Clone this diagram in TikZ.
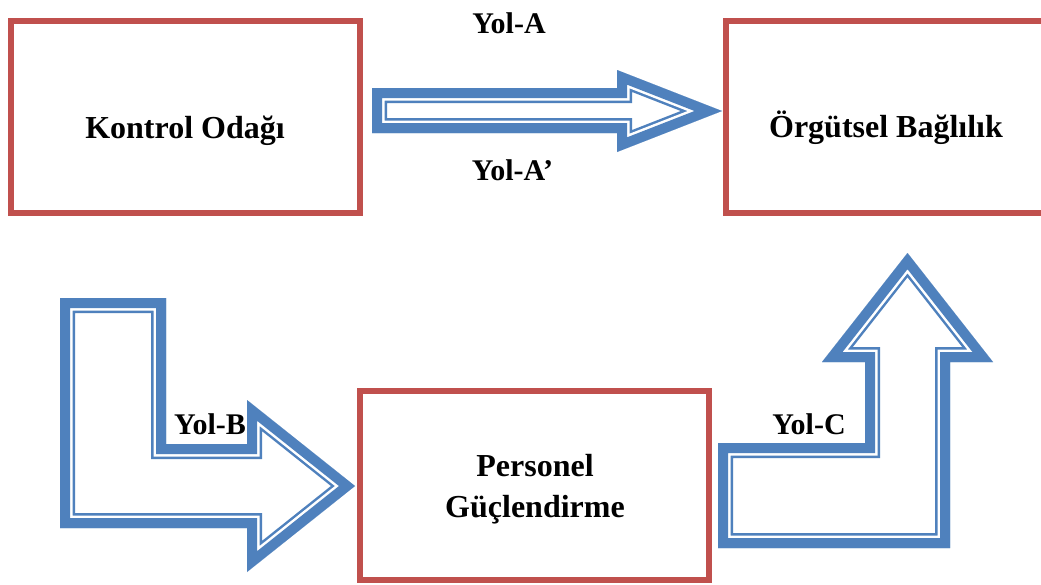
\documentclass[tikz,border=0pt]{standalone}
\usepackage{fontspec}
\setmainfont{Liberation Serif}
\usepackage{tikz}
\usetikzlibrary{calc}

\definecolor{kutukirmizi}{RGB}{192,80,77}
\definecolor{okmavi}{RGB}{79,129,189}

\newcommand{\yolok}[1]{%
\begin{scope}
\clip #1;
\fill[white] #1;
\draw[okmavi, line width=30pt, line join=miter, miter limit=20] #1;
\draw[white, line width=25pt, line join=miter, miter limit=20] #1;
\draw[okmavi, line width=20pt, line join=miter, miter limit=20] #1;
\end{scope}}

\begin{document}
\begin{tikzpicture}[x=1pt,y=-1pt]
\tikzstyle{kutu}=[rectangle,draw=kutukirmizi,line width=6pt,fill=white,inner sep=0pt]
\tikzstyle{baslik}=[anchor=base,font=\bfseries\fontsize{32}{41}\selectfont,align=center]
\tikzstyle{yol}=[anchor=base,font=\bfseries\fontsize{30}{36}\selectfont]
\useasboundingbox (0,0) rectangle (1041,584);
\fill[white] (0,0) rectangle (1041,584);
\node[kutu,minimum width=349pt,minimum height=192pt] (kontrol) at (185.5,117) {};
\node[kutu,minimum width=322pt,minimum height=192pt] (orgut) at (887,117) {};
\node[kutu,minimum width=349pt,minimum height=189pt] (personel) at (534.5,485.5) {};
\node[baslik] (kontrolyazi) at (185,138) {Kontrol Odağı};
\node[baslik] (orgutyazi) at (886,137) {Örgütsel Bağlılık};
\node[baslik] (personelyazi) at (535,517) {Personel\\Güçlendirme};
\coordinate (ucA) at (722,111);
\coordinate (ucB) at (355,486);
\coordinate (ucC) at (907.5,253);
\yolok{(372,88) -- (617,88) -- (617,70) -- (ucA) -- (617,152) -- (617,133) -- (372,133) -- cycle}
\yolok{(60,298) -- (166,298) -- (166,444) -- (247,444) -- (247,400) -- (ucB) -- (247,572) -- (247,528) -- (60,528) -- cycle}
\yolok{(718,548) -- (718,443) -- (865,443) -- (865,362) -- (822,362) -- (ucC) -- (993,362) -- (950,362) -- (950,548) -- cycle}
\node[yol] (yolA) at (509,33) {Yol-A};
\node[yol] (yolA2) at (512.5,180) {Yol-A’};
\node[yol] (yolB) at (210,434) {Yol-B};
\node[yol] (yolC) at (809,434) {Yol-C};
\end{tikzpicture}
\end{document}
